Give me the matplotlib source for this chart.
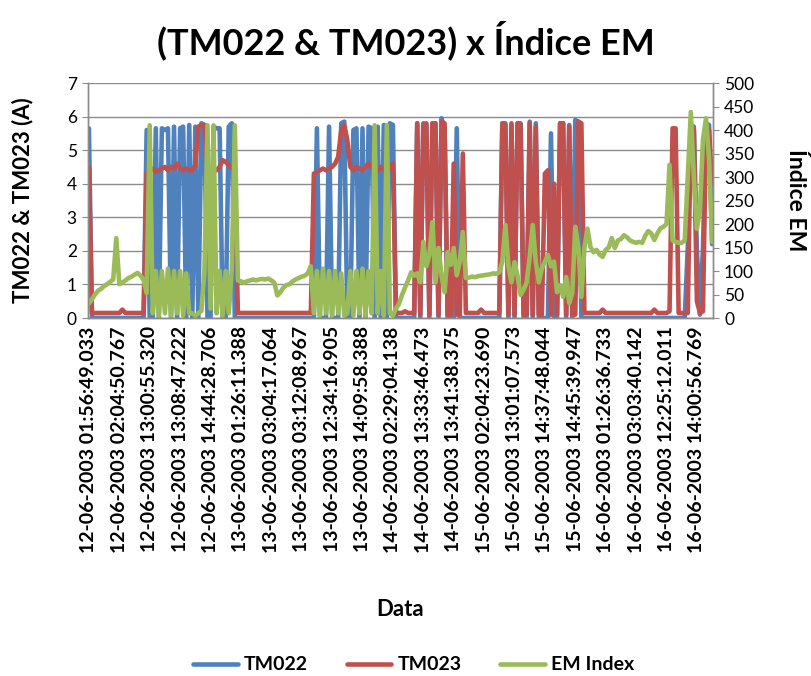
import matplotlib
matplotlib.use("Agg")
import matplotlib.pyplot as plt

plt.rcParams['font.family'] = ['Lato', 'DejaVu Sans']

title = "(TM022 & TM023) x Índice EM"
series_names = ["TM022", "TM023", "EM Index"]

tick_labels = [
    "12-06-2003 01:56:49.033", "12-06-2003 02:04:50.767", "12-06-2003 13:00:55.320",
    "12-06-2003 13:08:47.222", "12-06-2003 14:44:28.706", "13-06-2003 01:26:11.388",
    "13-06-2003 03:04:17.064", "13-06-2003 03:12:08.967", "13-06-2003 12:34:16.905",
    "13-06-2003 14:09:58.388", "14-06-2003 02:29:04.138", "14-06-2003 13:33:46.473",
    "14-06-2003 13:41:38.375", "15-06-2003 02:04:23.690", "15-06-2003 13:01:07.573",
    "15-06-2003 14:37:48.044", "15-06-2003 14:45:39.947", "16-06-2003 01:26:36.733",
    "16-06-2003 03:03:40.142", "16-06-2003 12:25:12.011", "16-06-2003 14:00:56.769",
]

tm022 = [
    5.65, 0, 0, 0, 0, 0, 0, 0, 0, 0,
    0, 0, 0, 0, 0, 0, 0, 0, 0, 5.6,
    0, 0, 5.65, 0, 5.65, 5.6, 5.65, 0, 5.7, 0,
    5.65, 5.7, 0, 5.75, 0, 5.7, 0, 5.8, 5.75, 0,
    0, 5.7, 5.65, 5.65, 0, 0, 5.7, 5.8, 0, 0,
    0, 0, 0, 0, 0, 0, 0, 0, 0, 0,
    0, 0, 0, 0, 0, 0, 0, 0, 0, 0,
    0, 0, 0, 0, 0, 5.65, 0, 0, 0, 5.7,
    0, 0, 0, 5.8, 5.85, 0, 0, 5.6, 5.65, 0,
    5.65, 0, 5.7, 5.65, 0, 5.7, 0, 5.75, 0, 5.8,
    5.75, 0, 0, 0, 0, 0, 0, 0, 5.8, 0,
    5.8, 5.75, 0, 5.8, 5.8, 0, 5.95, 5.6, 0, 0,
    0, 5.65, 0, 0, 0, 0, 0, 0, 0, 0,
    0, 0, 0, 0, 0, 0, 5.8, 5.8, 0, 5.75,
    0, 5.8, 5.8, 0, 0, 5.85, 0, 5.8, 0, 0,
    0, 0, 5.5, 0, 0, 5.8, 5.8, 0, 5.75, 0,
    5.9, 5.85, 0, 0, 0, 0, 0, 0, 0, 0,
    0, 0, 0, 0, 0, 0, 0, 0, 0, 0,
    0, 0, 0, 0, 0, 0, 0, 0, 0, 0,
    0, 0, 0, 0, 0, 0, 0, 2.1, 5.75, 5.7,
    2.0, 0.1, 2.1, 5.8, 5.75, 2.2,
]

tm023 = [
    4.5, 0.15, 0.15, 0.15, 0.15, 0.15, 0.15, 0.15, 0.15, 0.15,
    0.15, 0.25, 0.15, 0.15, 0.15, 0.15, 0.15, 0.15, 0.15, 4.3,
    4.4, 4.45, 4.35, 4.4, 4.45, 4.5, 4.4, 4.5, 4.45, 4.6,
    4.45, 4.4, 4.45, 4.4, 4.4, 4.55, 5.7, 5.75, 5.75, 4.5,
    4.4, 4.45, 4.4, 4.5, 4.7, 4.65, 4.55, 4.5, 4.4, 0.15,
    0.15, 0.15, 0.15, 0.15, 0.15, 0.15, 0.15, 0.15, 0.15, 0.15,
    0.15, 0.15, 0.15, 0.15, 0.15, 0.15, 0.15, 0.15, 0.15, 0.15,
    0.15, 0.15, 0.15, 0.15, 4.3, 4.35, 4.4, 4.45, 4.4, 4.45,
    4.5, 4.6, 4.8, 5.6, 5.75, 5.3, 4.5, 4.4, 4.5, 4.45,
    4.4, 4.5, 4.6, 4.5, 4.45, 4.4, 4.5, 4.45, 4.4, 4.5,
    4.6, 0.15, 0.15, 0.15, 0.2, 0.15, 0.15, 0.15, 5.8, 0.1,
    5.75, 5.8, 0.1, 5.8, 5.8, 0.1, 5.85, 5.8, 0.1, 0.1,
    4.6, 0.1, 0.1, 4.9, 0.15, 0.15, 0.15, 0.15, 0.15, 0.25,
    0.15, 0.15, 0.15, 0.15, 0.15, 0.15, 5.8, 5.75, 0.1, 5.8,
    0.1, 5.8, 5.75, 0.1, 0.1, 5.8, 0.1, 5.7, 0.1, 0.1,
    4.3, 4.4, 0.1, 4.0, 0.1, 5.8, 5.8, 0.1, 5.7, 0.1,
    0.1, 5.85, 5.8, 0.15, 0.15, 0.15, 0.15, 0.15, 0.15, 0.25,
    0.15, 0.15, 0.15, 0.15, 0.15, 0.15, 0.15, 0.15, 0.15, 0.15,
    0.15, 0.15, 0.15, 0.15, 0.15, 0.15, 0.25, 0.15, 0.15, 0.15,
    0.15, 0.2, 5.65, 5.65, 0.15, 0.15, 0.15, 0.15, 5.65, 5.6,
    0.5, 0.15, 0.2, 5.65, 5.6, 4.0,
]

em_index = [
    31, 40, 50, 58, 62, 68, 72, 77, 82, 170,
    72, 75, 80, 85, 88, 92, 96, 90, 81, 53,
    410, 10, 100, 5, 100, 10, 105, 5, 100, 10,
    100, 5, 95, 10, 10, 5, 10, 15, 100, 410,
    20, 410, 10, 100, 5, 100, 10, 105, 410, 80,
    78, 75, 78, 80, 82, 80, 82, 83, 82, 84,
    80, 75, 48, 55, 65, 70, 72, 78, 82, 85,
    88, 90, 95, 110, 10, 100, 5, 105, 10, 100,
    5, 100, 10, 95, 5, 10, 100, 5, 100, 10,
    105, 5, 100, 10, 410, 10, 100, 5, 410, 10,
    5, 20, 30, 49, 65, 80, 97, 90, 95, 76,
    162, 110, 134, 204, 76, 149, 90, 55, 140, 113,
    149, 91, 120, 183, 85, 86, 88, 87, 89, 90,
    91, 92, 93, 95, 94, 97, 120, 198, 110, 76,
    119, 90, 49, 60, 76, 130, 198, 120, 76, 106,
    120, 134, 110, 120, 55, 70, 45, 87, 32, 53,
    194, 151, 45, 150, 190, 151, 140, 145, 135, 130,
    145, 150, 170, 149, 165, 168, 176, 172, 165, 162,
    160, 162, 160, 175, 185, 180, 166, 180, 191, 194,
    200, 326, 165, 162, 160, 160, 165, 300, 438, 300,
    190, 230, 380, 425, 340, 162,
]

BLUE = "#4F81BD"
RED = "#C0504D"
GREEN = "#9BBB59"
GRID = "#8C8C8C"

n = len(tm022)
x = list(range(n))

fig = plt.figure(figsize=(8.11, 6.76), dpi=100)
ax = fig.add_axes([88 / 811, 1 - 318 / 676, (713 - 88) / 811, (318 - 83) / 676])
ax2 = ax.twinx()

lw = 3.3
l1, = ax.plot(x, tm022, color=BLUE, lw=lw, solid_joinstyle='round', solid_capstyle='round', label=series_names[0])
l2, = ax.plot(x, tm023, color=RED, lw=lw, solid_joinstyle='round', solid_capstyle='round', label=series_names[1])
l3, = ax2.plot(x, em_index, color=GREEN, lw=lw, solid_joinstyle='round', solid_capstyle='round', label=series_names[2])

ax.set_xlim(-0.3, n - 0.7)
ax.set_ylim(0, 7)
ax2.set_ylim(0, 500)
ax.set_yticks(range(0, 8))
ax2.set_yticks(range(0, 501, 50))
ax.yaxis.grid(True, color=GRID, lw=1)
ax.set_axisbelow(True)

ax.set_xticks(list(range(0, n, 10)))
ax.set_xticklabels(tick_labels, rotation=90, fontsize=14, fontweight='bold')
ax.tick_params(axis='x', length=0, pad=6)
ax.tick_params(axis='y', length=4, color=GRID, labelsize=12.5, pad=4)
ax2.tick_params(axis='y', length=4, color=GRID, labelsize=12.5, pad=4)

for a in (ax, ax2):
    a.spines['top'].set_visible(False)
    for s in ('left', 'right', 'bottom'):
        a.spines[s].set_color(GRID)
        a.spines[s].set_linewidth(1)

ax.set_ylabel("TM022 & TM023 (A)", fontsize=16, fontweight='bold', va='center')
ax.yaxis.set_label_coords((23 - 88) / 625, 0.5)
ax2.set_ylabel("Índice EM", fontsize=16.5, fontweight='bold', rotation=-90, va='center')
ax2.yaxis.set_label_coords((796 - 88) / 625, 0.5)
ax.set_xlabel("Data", fontsize=16, fontweight='bold', va='center')
ax.xaxis.set_label_coords(0.5, (318 - 610) / 235)

fig.text(0.5, 1 - 40 / 676, title, fontsize=26, fontweight='bold', ha='center', va='center')

fig.legend(handles=[l1, l2, l3], labels=series_names, loc='center',
           bbox_to_anchor=(0.51, 1 - 665 / 676), ncol=3, frameon=False,
           prop={'weight': 'bold', 'size': 14}, handlelength=2.3,
           handletextpad=0.3, columnspacing=2.0)

fig.savefig("out.png", dpi=100)
